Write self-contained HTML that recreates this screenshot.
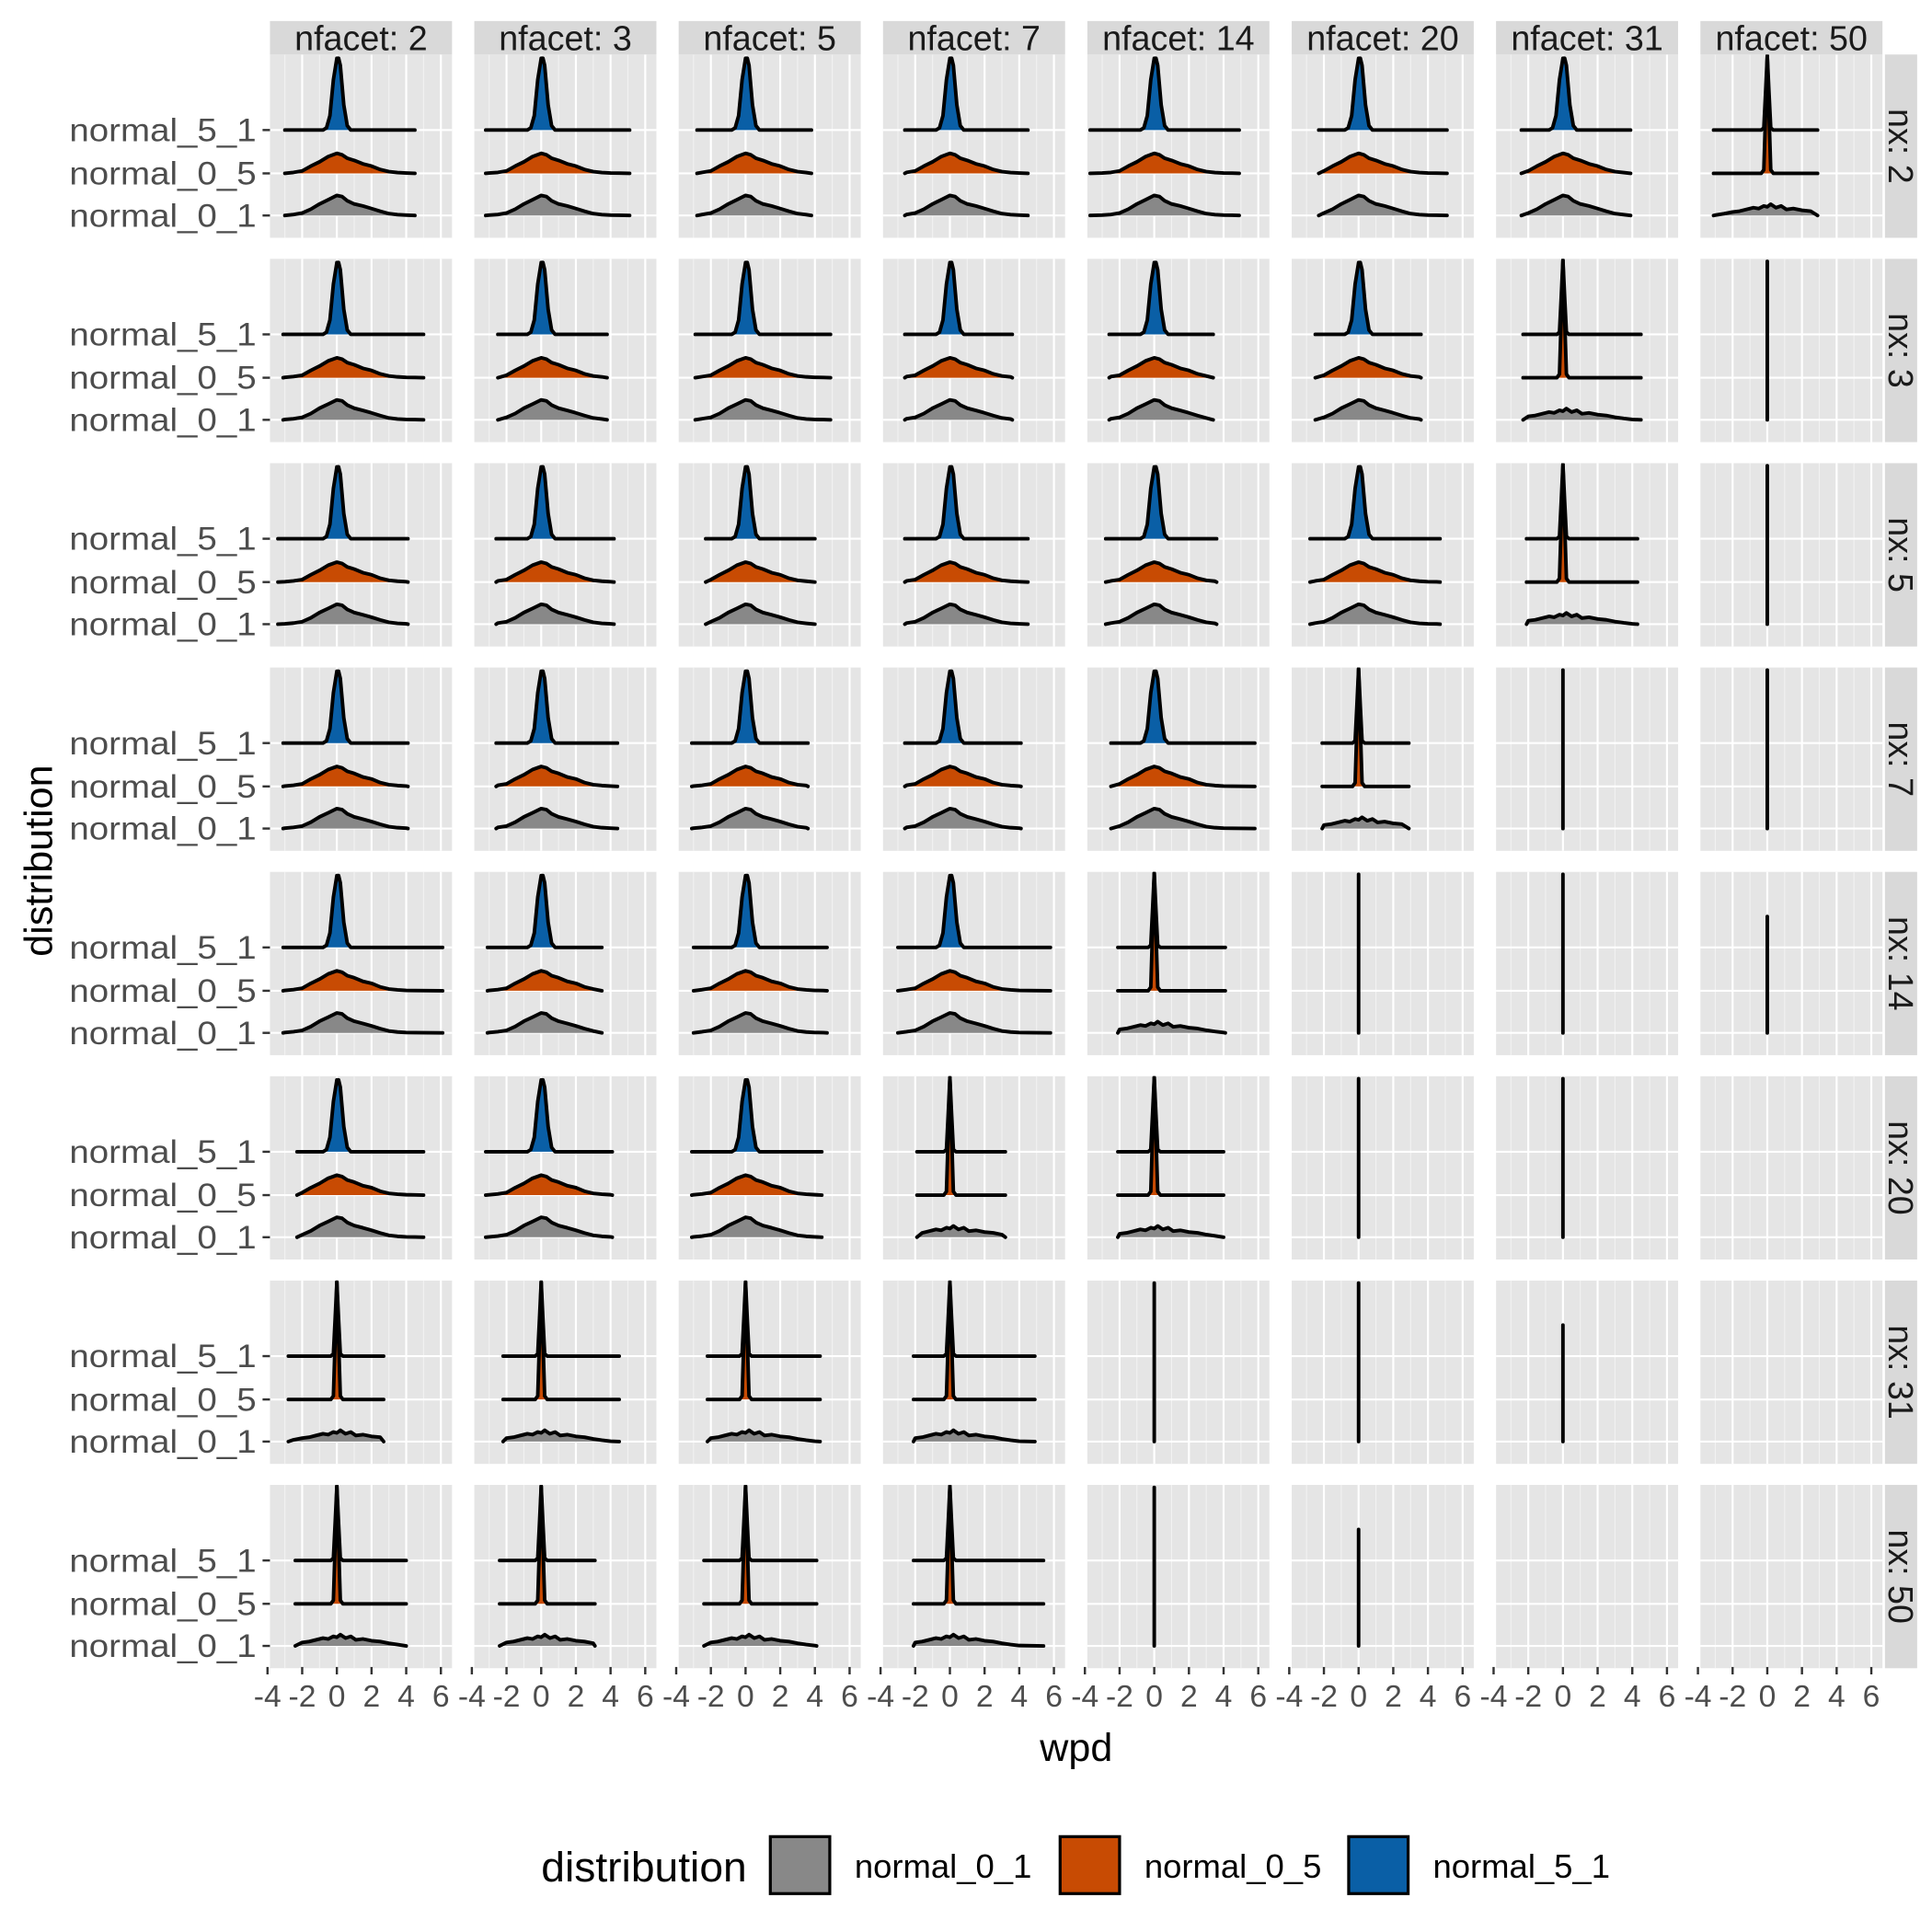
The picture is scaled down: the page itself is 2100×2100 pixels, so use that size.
<!DOCTYPE html>
<html><head><meta charset="utf-8">
<style>
html,body{margin:0;padding:0;background:#fff;}
svg{display:block;font-family:"Liberation Sans",Arial,sans-serif;}
</style></head>
<body>
<svg id="chart" width="2100" height="2100" viewBox="0 0 1560 1560" xmlns="http://www.w3.org/2000/svg"></svg>
<script>
// ---- data ----
const colFacets = ["nfacet: 2","nfacet: 3","nfacet: 5","nfacet: 7","nfacet: 14","nfacet: 20","nfacet: 31","nfacet: 50"];
const rowFacets = ["nx: 2","nx: 3","nx: 5","nx: 7","nx: 14","nx: 20","nx: 31","nx: 50"];
const categories = ["normal_5_1","normal_0_5","normal_0_1"];
const xTicks = [-4,-2,0,2,4,6];
// panel type: N=normal ridges, C=collapsed spikes, V=vertical line, S=short vertical line, E=empty
const panelTypes = [
 ["N","N","N","N","N","N","N","C"],
 ["N","N","N","N","N","N","C","V"],
 ["N","N","N","N","N","N","C","V"],
 ["N","N","N","N","N","C","V","V"],
 ["N","N","N","N","C","V","V","S"],
 ["N","N","N","C","C","V","V","E"],
 ["C","C","C","C","V","V","S","E"],
 ["C","C","C","C","V","S","E","E"]
];
const rangeMin = [
 [-3.0,-3.2,-2.8,-2.6,-3.7,-2.3,-2.4,-3.1],
 [-3.1,-2.5,-2.9,-2.6,-2.6,-2.5,-2.3,0],
 [-3.4,-2.6,-2.3,-2.6,-2.8,-2.8,-2.1,0],
 [-3.1,-2.6,-3.1,-2.6,-2.5,-2.1,0,0],
 [-3.1,-3.1,-3.0,-3.0,-2.1,0,0,0],
 [-2.3,-3.2,-3.1,-1.9,-2.1,0,0,0],
 [-2.8,-2.2,-2.2,-2.1,0,0,0,0],
 [-2.4,-2.4,-2.4,-2.1,0,0,0,0]
];
const rangeMax = [
 [4.5,5.1,3.8,4.5,4.9,5.1,3.9,2.9],
 [5.0,3.8,4.9,3.6,3.4,3.6,4.5,0],
 [4.1,4.2,4.0,4.5,3.6,4.7,4.3,0],
 [4.1,4.4,3.6,4.1,5.8,2.9,0,0],
 [6.1,3.5,4.7,5.8,4.1,0,0,0],
 [5.0,4.1,4.4,3.2,4.0,0,0,0],
 [2.7,4.5,4.3,4.9,0,0,0,0],
 [4.0,3.1,4.1,5.4,0,0,0,0]
];
// density shapes (relative heights)
const broadX = [-3,-2.5,-2,-1.5,-1,-0.5,0,0.3,0.6,1,1.5,2,2.5,3,3.5,4,4.5];
const orangeD = [0.02,0.05,0.12,0.35,0.55,0.8,0.95,0.88,0.72,0.62,0.45,0.35,0.18,0.08,0.04,0.02,0.01];
const greyD = [0.02,0.05,0.12,0.3,0.55,0.75,0.95,0.9,0.7,0.55,0.45,0.33,0.2,0.09,0.04,0.02,0.01];
const narrowX = [-0.8,-0.6,-0.4,-0.2,0,0.1,0.2,0.4,0.6,0.8];
const narrowD = [0,0.03,0.2,0.7,1,1,0.9,0.35,0.06,0];
const spikeX = [-0.35,-0.2,-0.1,0,0.1,0.2,0.35];
const spikeD = [0,0.03,0.5,1,0.5,0.03,0];
const jagX = [-3,-2.5,-2,-1.6,-1.2,-0.8,-0.5,-0.2,0,0.2,0.5,0.8,1.1,1.5,2,2.5,3,3.5,4];
const jagD = [0.02,0.1,0.2,0.25,0.35,0.45,0.4,0.55,0.5,0.65,0.45,0.55,0.35,0.4,0.3,0.25,0.15,0.08,0.02];

// ---- layout ----
const svg = document.getElementById('chart');
const NS = "http://www.w3.org/2000/svg";
const P0x = 218, P0y = 44, PW = 147, PH = 148, PITCH = 165;
const baseOff = [61, 96, 130];
const fills = {normal_5_1:"#0A5FA6", normal_0_5:"#C84B03", normal_0_1:"#888888"};
function mk(tag, attrs, parent){ const e=document.createElementNS(NS,tag); for(const k in attrs) e.setAttribute(k,attrs[k]); (parent||svg).appendChild(e); return e; }
function xScale(c, v){ return P0x + c*PITCH + 54 + 14*v; }

const defs = mk('defs',{});
for(let r=0;r<8;r++){
  for(let c=0;c<8;c++){
    const px=P0x+c*PITCH, py=P0y+r*PITCH;
    const cp=mk('clipPath',{id:`cl${r}_${c}`},defs);
    mk('rect',{x:px,y:py,width:PW,height:PH},cp);
    const g=mk('g',{});
    
    
    mk('rect',{x:px,y:py,width:PW,height:PH,fill:"#E5E5E5"},g);
    for(let v=-3; v<=5; v+=2){ const x=xScale(c,v); mk('line',{x1:x,x2:x,y1:py,y2:py+PH,stroke:"#F2F2F2","stroke-width":0.8},g); }
    for(const v of xTicks){ const x=xScale(c,v); mk('line',{x1:x,x2:x,y1:py,y2:py+PH,stroke:"#FFFFFF","stroke-width":1.6},g); }
    for(const o of baseOff){ mk('line',{x1:px,x2:px+PW,y1:py+o,y2:py+o,stroke:"#FFFFFF","stroke-width":1.6},g); }
    const gc=mk('g',{'clip-path':`url(#cl${r}_${c})`},g);
    const type=panelTypes[r][c];
    if(type==="N"||type==="C"){
      const lo=rangeMin[r][c], hi=rangeMax[r][c];
      categories.forEach((cat,i)=>{
        let xs, ds, H;
        if(type==="N"){
          if(i===0){xs=narrowX;ds=narrowD;H=58;}
          else if(i===1){xs=broadX;ds=orangeD;H=17;}
          else {xs=broadX;ds=greyD;H=17;}
        } else {
          if(i===0){xs=spikeX;ds=spikeD;H=60;}
          else if(i===1){xs=spikeX;ds=spikeD;H=95;}
          else {xs=jagX;ds=jagD;H=14;}
        }
        const b=py+baseOff[i];
        const pts=[[lo,0]];
        xs.forEach((xv,k)=>{ if(xv>lo&&xv<hi) pts.push([xv,ds[k]]); });
        pts.push([hi,0]);
        let d=pts.map((p,k)=>(k?'L':'M')+xScale(c,p[0]).toFixed(1)+','+(b-p[1]*H).toFixed(1)).join(' ');
        const area=mk('path',{d:d+` L${xScale(c,hi).toFixed(1)},${b} L${xScale(c,lo).toFixed(1)},${b} Z`,fill:fills[cat],stroke:"none"},gc);
        
        
        const ln=mk('path',{d:d,fill:"none",stroke:"#000","stroke-width":2.9,"stroke-linejoin":"round","stroke-linecap":"round"},gc);
        
        
      });
    } else if(type==="V"||type==="S"){
      const x=xScale(c,0);
      const yb=py+baseOff[2];
      const yt= type==="V" ? py+2 : py+baseOff[2]-94;
      const vl=mk('line',{x1:x,x2:x,y1:yt,y2:yb,stroke:"#000","stroke-width":2.9,"stroke-linecap":"round"},gc);
      
      
    }
  }
}
// column strips
colFacets.forEach((t,c)=>{
  const g=mk('g',{});  
  mk('rect',{x:P0x+c*PITCH,y:17,width:PW,height:27,fill:"#D9D9D9"},g);
  const tx=mk('text',{x:P0x+c*PITCH+PW/2,y:40.5,'text-anchor':'middle','font-size':28,fill:"#1A1A1A"},g); tx.textContent=t;
});
// row strips
rowFacets.forEach((t,r)=>{
  const g=mk('g',{});  
  const py=P0y+r*PITCH;
  mk('rect',{x:1522,y:py,width:26,height:PH,fill:"#D9D9D9"},g);
  const tx=mk('text',{x:1525,y:py+PH/2,'text-anchor':'middle','font-size':28,fill:"#1A1A1A",transform:`rotate(90 1525 ${py+PH/2})`},g); tx.textContent=t;
});
// y axis ticks and labels
for(let r=0;r<8;r++){
  categories.forEach((cat,i)=>{
    const y=P0y+r*PITCH+baseOff[i];
    mk('line',{x1:212,x2:218,y1:y,y2:y,stroke:"#333","stroke-width":1.8});
    const tx=mk('text',{x:207,y:y+9,'text-anchor':'end','font-size':26,fill:"#4D4D4D",textLength:151,lengthAdjust:"spacingAndGlyphs"});
     
    tx.textContent=cat;
  });
}
// x axis ticks
for(let c=0;c<8;c++){
  xTicks.forEach(v=>{
    const x=xScale(c,v);
    mk('line',{x1:x,x2:x,y1:1346,y2:1352,stroke:"#333","stroke-width":1.8});
    const tx=mk('text',{x:x,y:1378,'text-anchor':'middle','font-size':25,fill:"#4D4D4D"});
     
    tx.textContent=String(v);
  });
}
let t=mk('text',{x:869,y:1422,'text-anchor':'middle','font-size':32,fill:"#000"}); t.textContent="wpd";
 
t=mk('text',{x:42,y:695,'text-anchor':'middle','font-size':32,fill:"#000",transform:"rotate(-90 42 695)"}); t.textContent="distribution";
 
// legend
const lg=mk('g',{});  
t=mk('text',{x:437,y:1519,'font-size':34,fill:"#000",textLength:166,lengthAdjust:"spacingAndGlyphs"},lg); t.textContent="distribution";
const legendOrder=["normal_0_1","normal_0_5","normal_5_1"];
const legendX=[621,855,1088];
legendOrder.forEach((cat,i)=>{
  const e=mk('g',{},lg);  
  mk('rect',{x:legendX[i]+1,y:1483,width:48,height:46,fill:fills[cat],stroke:"#000","stroke-width":2.4},e);
  const tx=mk('text',{x:legendX[i]+69,y:1516,'font-size':27,fill:"#000",textLength:143,lengthAdjust:"spacingAndGlyphs"},e); tx.textContent=cat;
});
</script>
</body></html>
